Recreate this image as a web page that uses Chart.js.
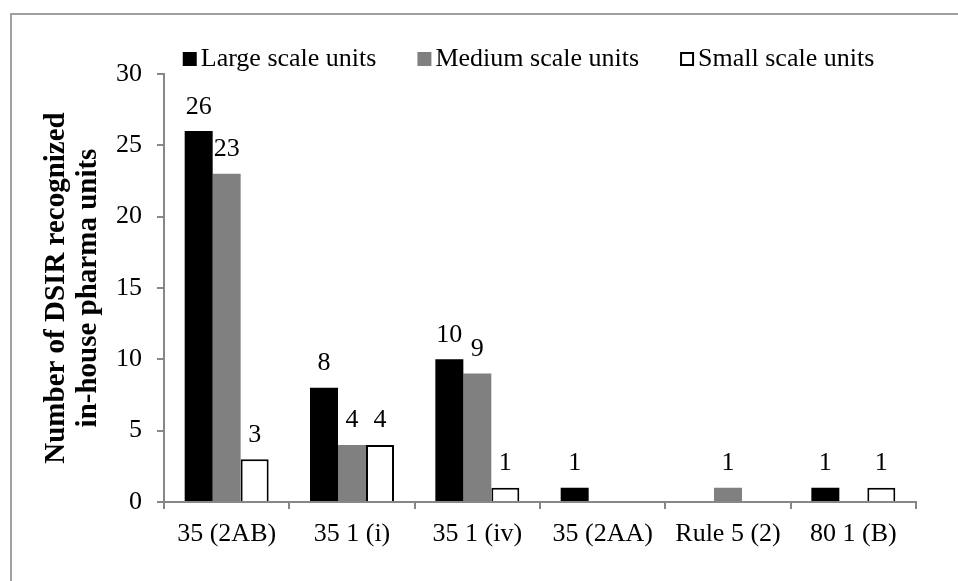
<!DOCTYPE html>
<html>
<head>
<meta charset="utf-8">
<script src="https://cdn.jsdelivr.net/npm/chart.js@4.4.1/dist/chart.umd.min.js"></script>
<style>
  html, body { margin: 0; padding: 0; background: #ffffff; }
  #wrap { width: 958px; height: 581px; position: relative; }
</style>
</head>
<body>
<div id="wrap"><canvas id="chart" width="958" height="581"></canvas></div>
<script>
// Categories (sections of the act) and unit counts per company size
const categories = ['35 (2AB)', '35 1 (i)', '35 1 (iv)', '35 (2AA)', 'Rule 5 (2)', '80 1 (B)'];
const largeUnits = [26, 8, 10, 1, 0, 1];
const mediumUnits = [23, 4, 9, 0, 1, 0];
const smallUnits = [3, 4, 1, 0, 0, 1];
const seriesNames = ['Large scale units', 'Medium scale units', 'Small scale units'];
const yTicks = [0, 5, 10, 15, 20, 25, 30];
const yTitle = ['Number of DSIR recognized', 'in-house pharma units'];

const SERIF = "'Liberation Serif', 'Times New Roman', Times, serif";
const AXIS_GREY = '#878787';

Chart.defaults.font.family = SERIF;
Chart.defaults.color = '#000000';

// Grey frame around the whole chart
const framePlugin = {
  id: 'frame',
  beforeDraw(chart) {
    const ctx = chart.ctx;
    ctx.save();
    ctx.fillStyle = '#ffffff';
    ctx.fillRect(0, 0, chart.width, chart.height);
    ctx.strokeStyle = '#a0a0a0';
    ctx.lineWidth = 2;
    ctx.strokeRect(11, 14, chart.width + 40, chart.height + 40);
    ctx.restore();
  }
};

// Value labels above each non-zero bar
const valueLabels = {
  id: 'valueLabels',
  afterDatasetsDraw(chart) {
    const ctx = chart.ctx;
    ctx.save();
    ctx.font = '26px ' + SERIF;
    ctx.fillStyle = '#000000';
    ctx.textAlign = 'center';
    ctx.textBaseline = 'alphabetic';
    chart.data.datasets.forEach((ds, di) => {
      const meta = chart.getDatasetMeta(di);
      meta.data.forEach((bar, i) => {
        const v = ds.data[i];
        if (!v) return;
        ctx.fillText(String(v), bar.x, bar.y - 17.5);
      });
    });
    ctx.restore();
  }
};

// Legend row: small square swatch followed closely by the series name
const legendRow = {
  id: 'legendRow',
  afterDraw(chart) {
    const ctx = chart.ctx;
    const box = 14, gap = 4, spacing = 41, centerX = 528.5, baseline = 66;
    ctx.save();
    ctx.font = '26px ' + SERIF;
    const items = chart.data.datasets.map(ds => ({
      text: ds.label,
      fill: ds.backgroundColor,
      stroke: ds.borderWidth ? ds.borderColor : null,
      w: ctx.measureText(ds.label).width
    }));
    const total = items.reduce((s, it) => s + box + gap + it.w, 0) + spacing * (items.length - 1);
    let x = centerX - total / 2;
    items.forEach(it => {
      ctx.fillStyle = it.fill;
      ctx.fillRect(x, baseline - box, box, box);
      if (it.stroke) {
        ctx.strokeStyle = it.stroke;
        ctx.lineWidth = 2;
        ctx.strokeRect(x + 1, baseline - box + 1, box - 2, box - 2);
      }
      ctx.fillStyle = '#000000';
      ctx.textAlign = 'left';
      ctx.textBaseline = 'alphabetic';
      ctx.fillText(it.text, x + box + gap, baseline);
      x += box + gap + it.w + spacing;
    });
    ctx.restore();
  }
};

new Chart(document.getElementById('chart'), {
  type: 'bar',
  data: {
    labels: categories,
    datasets: [
      { label: seriesNames[0], data: largeUnits, backgroundColor: '#000000', borderWidth: 0 },
      { label: seriesNames[1], data: mediumUnits, backgroundColor: '#808080', borderWidth: 0 },
      { label: seriesNames[2], data: smallUnits, backgroundColor: '#ffffff', borderColor: '#000000', borderWidth: 2 }
    ]
  },
  options: {
    responsive: false,
    devicePixelRatio: 1,
    animation: false,
    layout: { padding: { left: 41, top: 74, right: 42, bottom: 0 } },
    datasets: { bar: { categoryPercentage: 0.67, barPercentage: 1.0 } },
    plugins: {
      legend: { display: false },
      tooltip: { enabled: false },
      title: { display: false }
    },
    scales: {
      x: {
        grid: { display: true, drawOnChartArea: false, drawTicks: true, tickLength: 7, color: AXIS_GREY, lineWidth: 2, offset: true },
        border: { display: true, color: AXIS_GREY, width: 2 },
        ticks: { font: { size: 26, family: SERIF }, color: '#000000', padding: 10, maxRotation: 0, autoSkip: false },
        afterFit(scale) { scale.height = 79; }
      },
      y: {
        min: yTicks[0],
        max: yTicks[yTicks.length - 1],
        grid: { display: true, drawOnChartArea: false, drawTicks: true, tickLength: 7, color: AXIS_GREY, lineWidth: 2 },
        border: { display: true, color: AXIS_GREY, width: 2 },
        ticks: { stepSize: yTicks[1] - yTicks[0], font: { size: 26, family: SERIF }, color: '#000000', padding: 15 },
        title: {
          display: true,
          text: yTitle,
          font: { size: 29, weight: 'bold', family: SERIF, lineHeight: 1.1 },
          color: '#000000',
          padding: { top: 0, bottom: 0 }
        },
        afterFit(scale) { scale.width = 123; }
      }
    }
  },
  plugins: [framePlugin, valueLabels, legendRow]
});
</script>
</body>
</html>
